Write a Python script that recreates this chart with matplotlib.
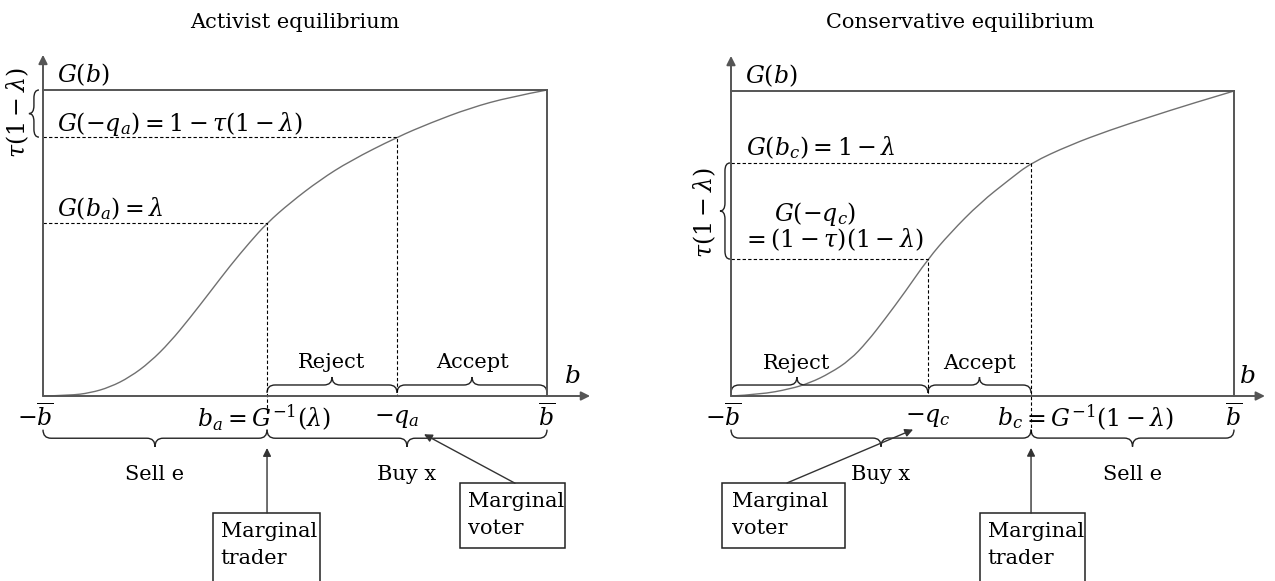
import numpy as np
import matplotlib.pyplot as plt
from matplotlib.path import Path
from matplotlib.patches import PathPatch, Rectangle

plt.rcParams['font.family'] = 'DejaVu Serif'
plt.rcParams['mathtext.fontset'] = 'dejavuserif'

# curves: b scaled to [-1, 1], G(b) in [0, 1]
act_b = [-1.0, -0.893, -0.813, -0.734, -0.655, -0.575, -0.496, -0.417, -0.337, -0.258,
         -0.179, -0.111, -0.020, 0.099, 0.218, 0.405, 0.536, 0.694, 0.853, 1.0]
act_G = [0.0, 0.002, 0.010, 0.029, 0.062, 0.111, 0.176, 0.255, 0.340, 0.425,
         0.503, 0.565, 0.631, 0.706, 0.768, 0.846, 0.892, 0.941, 0.977, 1.0]
con_b = [-1.0, -0.885, -0.765, -0.686, -0.606, -0.527, -0.459, -0.388, -0.308, -0.217,
         -0.129, -0.010, 0.109, 0.193, 0.348, 0.507, 0.666, 0.825, 1.0]
con_G = [0.0, 0.005, 0.023, 0.043, 0.075, 0.118, 0.177, 0.252, 0.341, 0.449,
         0.534, 0.633, 0.711, 0.764, 0.823, 0.872, 0.915, 0.957, 1.0]

# marked points
b_a, G_ba = -0.111, 0.565
mq_a, G_mqa = 0.405, 0.846
mq_c, G_mqc = -0.217, 0.449
b_c, G_bc = 0.193, 0.764

AX = '#555555'
CURVE = '#707070'
MS = 17  # math size
TS = 15  # text size
DASH = dict(color='black', lw=0.8, ls=(0, (3, 2)), clip_on=False)


def smooth_curve(ax, xs, ys):
    # quadratic pieces between midpoints, the read points act as control points
    pts = list(zip(xs, ys))
    verts = [pts[0]]
    codes = [Path.MOVETO]
    for i in range(1, len(pts) - 1):
        mid = ((pts[i][0] + pts[i + 1][0]) / 2, (pts[i][1] + pts[i + 1][1]) / 2)
        if i == len(pts) - 2:
            mid = pts[-1]
        verts += [pts[i], mid]
        codes += [Path.CURVE3, Path.CURVE3]
    ax.add_patch(PathPatch(Path(verts, codes), fc='none', ec=CURVE, lw=1.0, clip_on=False))


def hbrace(ax, x0, x1, y0, h, xt=None, r=0.032):
    if xt is None:
        xt = (x0 + x1) / 2
    ym, yt = y0 + h / 2, y0 + h
    verts = [(x0, y0), (x0, ym), (x0 + r, ym), (xt - r, ym), (xt, ym), (xt, yt),
             (xt, ym), (xt + r, ym), (x1 - r, ym), (x1, ym), (x1, y0)]
    codes = [Path.MOVETO, Path.CURVE3, Path.CURVE3, Path.LINETO, Path.CURVE3, Path.CURVE3,
             Path.CURVE3, Path.CURVE3, Path.LINETO, Path.CURVE3, Path.CURVE3]
    ax.add_patch(PathPatch(Path(verts, codes), fc='none', ec='#222222', lw=1.0, clip_on=False))


def vbrace(ax, y0, y1, x0, w, yt=None, r=0.026):
    if yt is None:
        yt = (y0 + y1) / 2
    xm, xt = x0 + w / 2, x0 + w
    verts = [(x0, y0), (xm, y0), (xm, y0 + r), (xm, yt - r), (xm, yt), (xt, yt),
             (xm, yt), (xm, yt + r), (xm, y1 - r), (xm, y1), (x0, y1)]
    codes = [Path.MOVETO, Path.CURVE3, Path.CURVE3, Path.LINETO, Path.CURVE3, Path.CURVE3,
             Path.CURVE3, Path.CURVE3, Path.LINETO, Path.CURVE3, Path.CURVE3]
    ax.add_patch(PathPatch(Path(verts, codes), fc='none', ec='#222222', lw=1.0, clip_on=False))


def arrow(ax, start, end, lw=1.0, ms=12, color='#333333'):
    ax.annotate('', xy=end, xytext=start, annotation_clip=False,
                arrowprops=dict(arrowstyle='-|>', color=color, lw=lw, mutation_scale=ms,
                                shrinkA=0, shrinkB=0))


def panel(ax, b, G, xend):
    ax.set_xlim(-1, 1)
    ax.set_ylim(0, 1)
    ax.axis('off')
    smooth_curve(ax, b, G)
    ax.plot([-1, 1], [1, 1], color=AX, lw=1.4, clip_on=False)
    ax.plot([1, 1], [0, 1], color=AX, lw=1.4, clip_on=False)
    arrow(ax, (-1, 0), (-1, 1.115), lw=1.4, ms=13, color=AX)
    arrow(ax, (-1, 0), (xend, 0), lw=1.4, ms=13, color=AX)
    ax.text(-0.945, 1.05, r'$G(b)$', fontsize=MS, va='center')
    ax.text(xend - 0.07, 0.065, r'$b$', fontsize=MS + 1, va='center', ha='center')
    ax.text(-1.03, -0.072, r'$-\overline{b}$', fontsize=MS, va='center', ha='center')
    ax.text(1.0, -0.072, r'$\overline{b}$', fontsize=MS, va='center', ha='center')


def box(ax, x0, x1, y0, y1, lines, pad=0.035):
    ax.add_patch(Rectangle((x0, y1), x1 - x0, y0 - y1, fc='white', ec='#222222', lw=1.1,
                           clip_on=False))
    ax.text(x0 + pad, y0 - 0.03, lines, fontsize=TS, va='top', ha='left', linespacing=1.5)


fig = plt.figure(figsize=(12.75, 5.81), dpi=100)
axL = fig.add_axes([43 / 1275, 185 / 581, 504 / 1275, 306 / 581])
axR = fig.add_axes([731 / 1275, 185 / 581, 503 / 1275, 305 / 581])

# ---------- Activist equilibrium ----------
ax = axL
panel(ax, act_b, act_G, 1.171)
ax.text(0.0, 1.222, 'Activist equilibrium', fontsize=TS, ha='center', va='center')
ax.plot([-1, mq_a, mq_a], [G_mqa, G_mqa, 0], **DASH)
ax.plot([-1, b_a, b_a], [G_ba, G_ba, -0.06], **DASH)
ax.text(-0.945, 0.889, r'$G(-q_a) = 1 - \tau(1 - \lambda)$', fontsize=MS, va='center')
ax.text(-0.945, 0.614, r'$G(b_a) = \lambda$', fontsize=MS, va='center')
vbrace(ax, G_mqa, 1.0, -1.016, -0.04)
ax.text(-1.099, 0.925, r'$\tau(1 - \lambda)$', fontsize=MS, rotation=90, va='center', ha='center')

hbrace(ax, b_a, mq_a, 0.01, 0.052)
hbrace(ax, mq_a, 1.0, 0.01, 0.052)
ax.text((b_a + mq_a) / 2, 0.108, 'Reject', fontsize=TS, ha='center', va='center')
ax.text((mq_a + 1) / 2, 0.108, 'Accept', fontsize=TS, ha='center', va='center')

ax.text(-0.39, -0.072, r'$b_a = G^{-1}(\lambda)$', fontsize=MS, va='center', ha='left')
ax.text(mq_a, -0.072, r'$-q_a$', fontsize=MS, va='center', ha='center')

hbrace(ax, -1.0, b_a, -0.11, -0.056)
hbrace(ax, b_a, 1.0, -0.11, -0.056)
ax.text((-1 + b_a) / 2, -0.258, 'Sell e', fontsize=TS, ha='center', va='center')
ax.text((b_a + 1) / 2, -0.258, 'Buy x', fontsize=TS, ha='center', va='center')

box(ax, -0.325, 0.099, -0.382, -0.75, 'Marginal\ntrader', pad=0.03)
arrow(ax, (b_a, -0.382), (b_a, -0.17))
box(ax, 0.655, 1.071, -0.285, -0.497, 'Marginal\nvoter', pad=0.03)
arrow(ax, (0.873, -0.285), (0.512, -0.125))

# ---------- Conservative equilibrium ----------
ax = axR
panel(ax, con_b, con_G, 1.123)
ax.text(-0.089, 1.226, 'Conservative equilibrium', fontsize=TS, ha='center', va='center')
ax.plot([-1, b_c, b_c], [G_bc, G_bc, -0.12], **DASH)
ax.plot([-1, mq_c, mq_c], [G_mqc, G_mqc, 0], **DASH)
ax.text(-0.94, 0.813, r'$G(b_c) = 1 - \lambda$', fontsize=MS, va='center')
ax.text(-0.83, 0.597, r'$G(-q_c)$', fontsize=MS, va='center')
ax.text(-0.955, 0.511, r'$= (1 - \tau)(1 - \lambda)$', fontsize=MS, va='center')
vbrace(ax, G_mqc, G_bc, -1.004, -0.04)
ax.text(-1.103, 0.6, r'$\tau(1 - \lambda)$', fontsize=MS, rotation=90, va='center', ha='center')

hbrace(ax, -1.0, mq_c, 0.01, 0.052, xt=-0.738)
hbrace(ax, mq_c, b_c, 0.01, 0.052)
ax.text(-0.738, 0.108, 'Reject', fontsize=TS, ha='center', va='center')
ax.text((mq_c + b_c) / 2, 0.108, 'Accept', fontsize=TS, ha='center', va='center')

ax.text(mq_c, -0.072, r'$-q_c$', fontsize=MS, va='center', ha='center')
ax.text(b_c - 0.032, -0.072, r'$b_c$', fontsize=MS, va='center', ha='right')
ax.text(b_c - 0.036, -0.072, r'$= G^{-1}(1 - \lambda)$', fontsize=MS, va='center', ha='left')

hbrace(ax, -1.0, b_c, -0.11, -0.056)
hbrace(ax, b_c, 1.0, -0.11, -0.056)
ax.text((-1 + b_c) / 2, -0.258, 'Buy x', fontsize=TS, ha='center', va='center')
ax.text((b_c + 1) / 2, -0.258, 'Sell e', fontsize=TS, ha='center', va='center')

box(ax, -1.036, -0.547, -0.285, -0.497, 'Marginal\nvoter', pad=0.04)
arrow(ax, (-0.777, -0.285), (-0.276, -0.11))
box(ax, -0.010, 0.408, -0.384, -0.75, 'Marginal\ntrader', pad=0.03)
arrow(ax, (b_c, -0.384), (b_c, -0.17))

fig.savefig('out.png', dpi=100)
